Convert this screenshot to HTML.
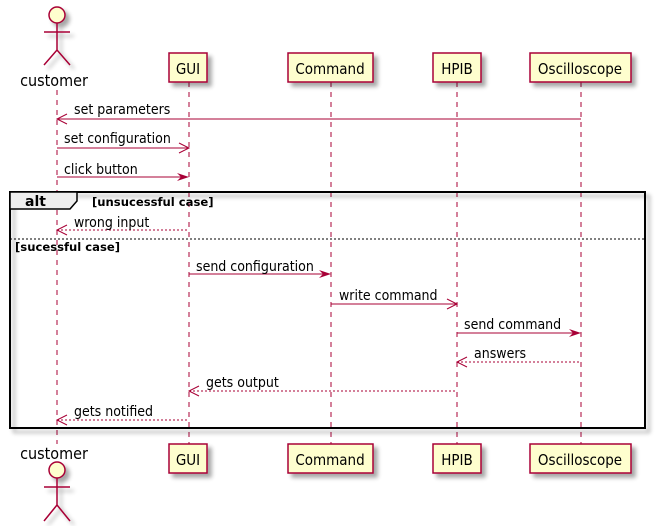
<!DOCTYPE html>
<html><head><style>body{margin:0;background:#fff}svg{display:block}text{font-family:"DejaVu Sans Condensed","DejaVu Sans","Liberation Sans",sans-serif;font-stretch:condensed}.m{font-size:14px}.p{font-size:15px}.b text{font-family:"DejaVu Sans","Liberation Sans",sans-serif;font-stretch:normal;font-size:11.6px;font-weight:bold}</style></head><body>
<svg width="658" height="526" viewBox="0 0 658 526" xmlns="http://www.w3.org/2000/svg">
<defs><filter id="sh" x="-20%" y="-20%" width="150%" height="150%"><feGaussianBlur in="SourceAlpha" stdDeviation="2"/><feOffset dx="4" dy="4"/><feComponentTransfer><feFuncA type="linear" slope="0.35"/></feComponentTransfer><feMerge><feMergeNode/><feMergeNode in="SourceGraphic"/></feMerge></filter></defs>
<g stroke="#A80036" stroke-dasharray="5,5" stroke-width="1">
<line x1="57" y1="90" x2="57" y2="444"/><line x1="189" y1="82" x2="189" y2="444"/><line x1="331" y1="82" x2="331" y2="444"/><line x1="457" y1="82" x2="457" y2="444"/><line x1="581" y1="82" x2="581" y2="444"/>
</g>
<g fill="#FEFECE" stroke="#A80036" stroke-width="1.5" filter="url(#sh)">
<rect x="169" y="53" width="38" height="29"/><rect x="288" y="53" width="85" height="29"/><rect x="433" y="53" width="48" height="29"/><rect x="530" y="53" width="101" height="29"/>
<rect x="169" y="444" width="38" height="29"/><rect x="288" y="444" width="85" height="29"/><rect x="433" y="444" width="48" height="29"/><rect x="530" y="444" width="101" height="29"/>
</g>
<g class="p" fill="#000" text-anchor="middle">
<text x="188" y="74">GUI</text><text x="330" y="74">Command</text><text x="457" y="74">HPIB</text><text x="580" y="74">Oscilloscope</text>
<text x="188" y="465">GUI</text><text x="330" y="465">Command</text><text x="457" y="465">HPIB</text><text x="580" y="465">Oscilloscope</text>
<text x="54" y="86" style="font-size:16px">customer</text><text x="54" y="459" style="font-size:16px">customer</text>
</g>
<g stroke="#A80036" stroke-width="1.5" fill="none" filter="url(#sh)">
<circle cx="57" cy="15" r="8" fill="#FEFECE"/><path d="M57 23V50M44 32H70M44 65L57 50L70 65"/>
<circle cx="57" cy="470" r="8" fill="#FEFECE"/><path d="M57 478V505M44 487H70M44 521L57 505L70 521"/>
</g>
<rect x="10" y="192" width="635" height="236" fill="none" stroke="#000" stroke-width="2" filter="url(#sh)"/>
<path d="M10 192H77V201L70 209H10Z" fill="#EEEEEE" stroke="#000" stroke-width="1.5"/>
<line x1="10" y1="239" x2="645" y2="239" stroke="#000" stroke-dasharray="2,2"/>
<g class="b"><text x="25" y="206" style="font-size:14px">alt</text><text x="92" y="206">[unsucessful case]</text><text x="15" y="251">[sucessful case]</text></g>
<g stroke="#A80036" stroke-width="1" fill="none">
<line x1="57" y1="119" x2="581" y2="119"/><path d="M67 114L57 119L67 124"/>
<line x1="57" y1="148" x2="189" y2="148"/><path d="M179 143L189 148L179 153"/>
<line x1="57" y1="177" x2="187" y2="177"/>
<line x1="57" y1="230" x2="189" y2="230" stroke-dasharray="2,2"/><path d="M67 225L57 230L67 235"/>
<line x1="189" y1="274" x2="329" y2="274"/>
<line x1="331" y1="304" x2="457" y2="304"/><path d="M447 299L457 304L447 309"/>
<line x1="457" y1="333" x2="579" y2="333"/>
<line x1="457" y1="362" x2="581" y2="362" stroke-dasharray="2,2"/><path d="M467 357L457 362L467 367"/>
<line x1="189" y1="391" x2="457" y2="391" stroke-dasharray="2,2"/><path d="M199 386L189 391L199 396"/>
<line x1="57" y1="420" x2="189" y2="420" stroke-dasharray="2,2"/><path d="M67 415L57 420L67 425"/>
</g>
<g fill="#A80036"><path d="M177 173L189 177L177 181L181 177Z"/><path d="M319 270L331 274L319 278L323 274Z"/><path d="M569 329L581 333L569 337L573 333Z"/></g>
<g class="m" fill="#000">
<text x="74" y="114">set parameters</text><text x="64" y="143">set configuration</text><text x="64" y="174">click button</text>
<text x="74" y="227">wrong input</text><text x="196" y="271">send configuration</text><text x="339" y="300">write command</text>
<text x="464" y="329">send command</text><text x="474" y="358">answers</text><text x="206" y="387">gets output</text><text x="74" y="416">gets notified</text>
</g>
</svg>
</body></html>
